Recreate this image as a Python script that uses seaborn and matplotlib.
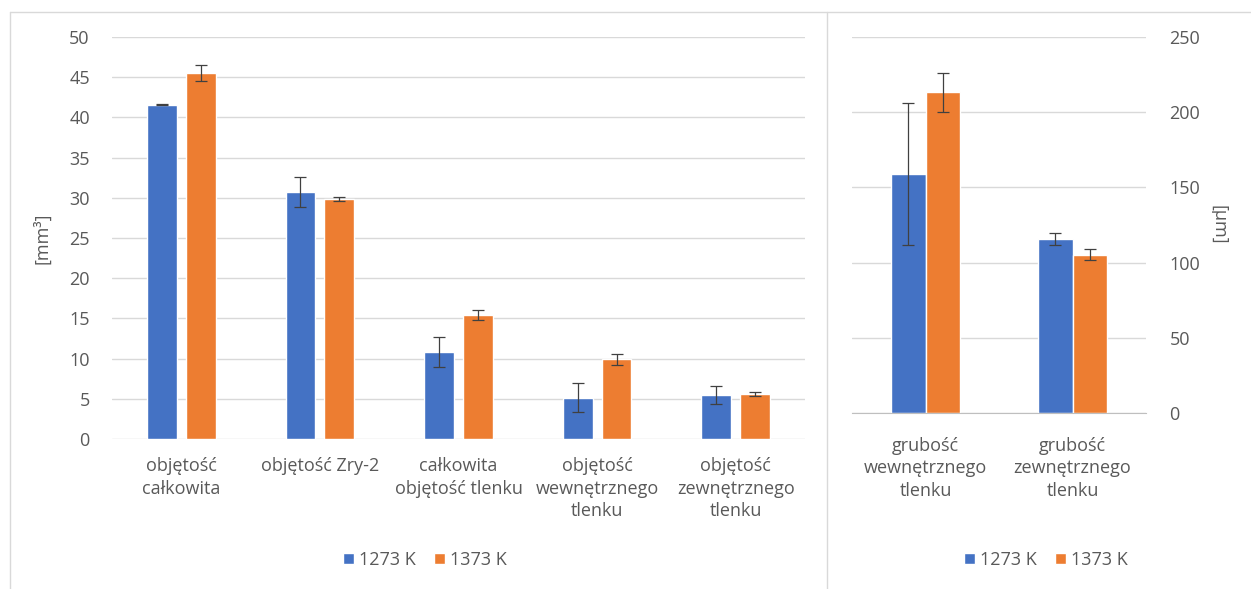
import matplotlib.pyplot as plt
import pandas as pd
import seaborn as sns
from matplotlib.lines import Line2D

# data
volume_labels = ['objętość\ncałkowita', 'objętość Zry-2', 'całkowita\nobjętość tlenku',
                 'objętość\nwewnętrznego\ntlenku', 'objętość\nzewnętrznego\ntlenku']
volume_1273 = [41.6, 30.7, 10.8, 5.15, 5.45]
volume_1273_err = [0.1, 1.85, 1.9, 1.8, 1.1]
volume_1373 = [45.5, 29.85, 15.45, 9.9, 5.6]
volume_1373_err = [1.0, 0.2, 0.65, 0.65, 0.2]

thickness_labels = ['grubość\nwewnętrznego\ntlenku', 'grubość\nzewnętrznego\ntlenku']
thickness_1273 = [158.7, 115.5]
thickness_1273_err = [47.3, 3.9]
thickness_1373 = [213.1, 105.3]
thickness_1373_err = [13.0, 3.7]

temps = ['1273 K', '1373 K']

COLORS = ['#4472C4', '#ED7D31']
TEXT = '#595959'
GRID = '#D9D9D9'
FS = 13
W, H = 1251, 589

sns.set_style('white')
plt.rcParams['font.family'] = ['Open Sans', 'DejaVu Sans']
plt.rcParams['font.size'] = FS


def to_long(labels, a, b):
    n = len(labels)
    return pd.DataFrame({'kat': labels * 2,
                         'temp': [temps[0]] * n + [temps[1]] * n,
                         'val': a + b})


def add_errors(ax, errs):
    for container, err in zip(ax.containers, errs):
        for bar, e in zip(container, err):
            ax.errorbar(bar.get_x() + bar.get_width() / 2, bar.get_height(), yerr=e,
                        color='#404040', lw=0.9, capsize=4, capthick=0.9, zorder=5)


def style_axis(ax):
    ax.grid(axis='y', color=GRID, lw=1)
    ax.set_axisbelow(True)
    for s in ax.spines.values():
        s.set_visible(False)
    ax.set_xlabel('')
    ax.tick_params(colors=TEXT, labelsize=FS, length=0)
    for lbl in ax.get_xticklabels():
        lbl.set_linespacing(1.32)
        lbl.set_verticalalignment('top')


fig = plt.figure(figsize=(W / 100, H / 100), dpi=100)

# left chart: volumes
ax1 = fig.add_axes([112 / W, 1 - 439 / H, 693 / W, 402 / H])
sns.barplot(data=to_long(volume_labels, volume_1273, volume_1373), x='kat', y='val',
            hue='temp', palette=COLORS, width=0.56, gap=0.23, saturation=1,
            errorbar=None, ax=ax1)
add_errors(ax1, [volume_1273_err, volume_1373_err])
handles, labels = ax1.get_legend_handles_labels()
ax1.legend_.remove()
ax1.set_ylim(0, 50)
ax1.set_yticks(range(0, 51, 5))
ax1.set_xlim(-0.5, 4.5)
style_axis(ax1)
ax1.tick_params(axis='y', pad=16)
ax1.tick_params(axis='x', pad=13)
ax1.set_ylabel('[mm³]', color=TEXT, fontsize=FS)
ax1.yaxis.set_label_coords(-0.087, 0.5)

# right chart: thickness
ax2 = fig.add_axes([852 / W, 1 - 413.3 / H, 294 / W, 376.6 / H])
sns.barplot(data=to_long(thickness_labels, thickness_1273, thickness_1373), x='kat', y='val',
            hue='temp', palette=COLORS, width=0.476, gap=0, saturation=1,
            errorbar=None, ax=ax2)
add_errors(ax2, [thickness_1273_err, thickness_1373_err])
ax2.legend_.remove()
ax2.set_ylim(0, 250)
ax2.set_yticks(range(0, 251, 50))
ax2.set_xlim(-0.5, 1.5)
style_axis(ax2)
ax2.yaxis.tick_right()
ax2.yaxis.set_label_position('right')
ax2.tick_params(axis='y', pad=17)
ax2.tick_params(axis='x', pad=17)
ax2.spines['bottom'].set_visible(True)
ax2.spines['bottom'].set_color('#BFBFBF')
ax2.set_xticks([-0.5, 0.5, 1.5], minor=True)
ax2.tick_params(axis='x', which='minor', length=5, color='#BFBFBF', direction='out')
ax2.set_ylabel('[µm]', color=TEXT, fontsize=FS, rotation=270, va='center')
ax2.yaxis.set_label_coords(1.245, 0.5)

# legends
for cx in (425, 1046):
    fig.legend(handles, labels, loc='center', bbox_to_anchor=(cx / W, 1 - 560 / H),
               ncol=2, frameon=False, handlelength=0.6, handleheight=0.6,
               handletextpad=0.3, columnspacing=1.0, labelcolor=TEXT, fontsize=FS)

# panel borders
fig.add_artist(Line2D([10 / W, 1], [1 - 12 / H, 1 - 12 / H], color=GRID, lw=1))
fig.add_artist(Line2D([10 / W, 10 / W], [0, 1 - 12 / H], color=GRID, lw=1))
fig.add_artist(Line2D([827 / W, 827 / W], [0, 1 - 12 / H], color=GRID, lw=1))

fig.savefig('out.png', dpi=100, facecolor='white')
